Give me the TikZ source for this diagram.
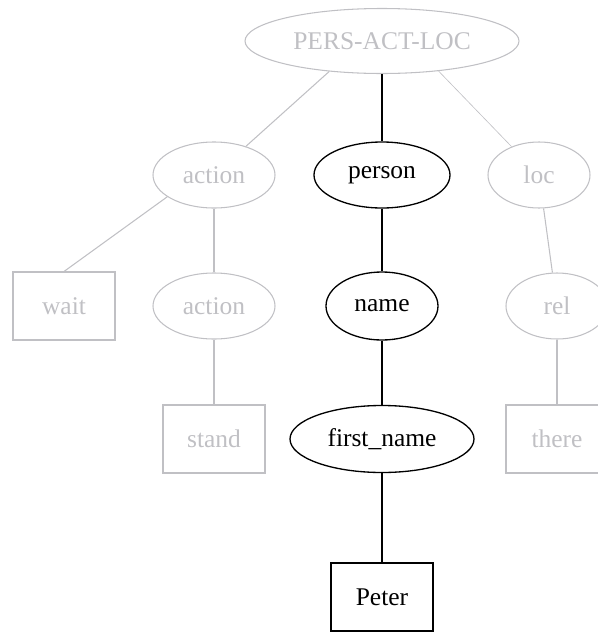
\documentclass[tikz,border=0pt]{standalone}
\usepackage{fontspec}
\setmainfont{Liberation Serif}
\usetikzlibrary{shapes.geometric}
\definecolor{faded}{HTML}{C0C0C4}
\tikzset{
  on/.style={ellipse, draw, line width=0.75pt, minimum width=2.44cm, minimum height=1.32cm,
             inner sep=0pt, font=\fontsize{14.5}{16}\selectfont},
  off/.style={on, draw=faded, text=faded, line width=0.6pt},
  onbox/.style={rectangle, draw, line width=0.75pt, minimum width=2.04cm, minimum height=1.36cm,
                inner sep=0pt, font=\fontsize{14.5}{16}\selectfont},
  offbox/.style={onbox, draw=faded, text=faded, line width=0.6pt},
  link/.style={draw, line width=0.75pt},
  faint/.style={draw=faded, line width=0.6pt},
}

\begin{document}
\begin{tikzpicture}
  \clip (0,0) rectangle (11.96,-12.64);
  % top
  \node[off, minimum width=5.48cm, minimum height=1.30cm] (pal) at (7.64,-0.82) {PERS-ACT-LOC};
  % second row
  \node[off] (act1) at (4.28,-3.5) {action};
  \node[on, minimum width=2.72cm] (person) at (7.64,-3.5) {person};
  \node[off, minimum width=2.04cm] (loc) at (10.78,-3.5) {loc};
  % third row
  \node[offbox] (wait) at (1.28,-6.12) {wait};
  \node[off] (act2) at (4.28,-6.12) {action};
  \node[on, minimum width=2.24cm, minimum height=1.36cm] (name) at (7.64,-6.12) {name};
  \node[off, minimum width=2.04cm] (rel) at (11.14,-6.12) {rel};
  % fourth row
  \node[offbox] (stand) at (4.28,-8.78) {stand};
  \node[on, minimum width=3.68cm, minimum height=1.34cm] (fname) at (7.64,-8.78) {first\_name};
  \node[offbox] (there) at (11.14,-8.78) {there};
  % leaf
  \node[onbox] (peter) at (7.64,-11.94) {Peter};

  \draw[faint] (pal.210) -- (act1);
  \draw[link] (pal) -- (person);
  \draw[faint, line width=0.35pt] (pal.332) -- (loc);
  \draw[faint] (act1.205) -- (wait.north);
  \draw[faint] (act1) -- (act2);
  \draw[faint] (act2) -- (stand);
  \draw[link] (person) -- (name);
  \draw[link] (name) -- (fname);
  \draw[link] (fname) -- (peter);
  \draw[faint] (loc) -- (rel);
  \draw[faint] (rel) -- (there);
\end{tikzpicture}
\end{document}
